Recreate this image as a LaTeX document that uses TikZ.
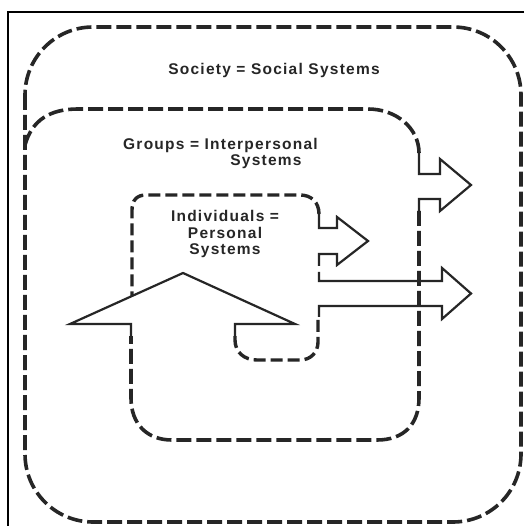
\documentclass[tikz,border=0pt]{standalone}
\usepackage{fontspec}
\newfontfamily\lab[LetterSpace=8]{Liberation Sans}
\definecolor{ink}{HTML}{262626}
\begin{document}
\begin{tikzpicture}[x=1pt,y=-1pt,
  dsh/.style={draw=ink,line width=3.6pt,dash pattern=on 15pt off 5pt},
  dshs/.style={draw=ink,line width=3.4pt,dash pattern=on 12pt off 5pt},
  sol/.style={draw=ink,line width=2.2pt,line join=miter},
  txt/.style={text=ink,font=\lab\bfseries\fontsize{15.5}{16.5}\selectfont,inner sep=0pt}]
\useasboundingbox (0,0) rectangle (527,526);
\fill[white] (0,0) rectangle (527,526);
% frame
\coordinate (ftl) at (8,12);
\coordinate (ftr) at (524,12);
\coordinate (fbl) at (8,526);
\draw[black,line width=1.4pt] (ftr) -- (ftl) -- (fbl);
% society
\draw[dsh,rounded corners=68pt] (25,27) rectangle (521,522);
% groups: top and right part
\draw[dsh] (25,145) .. controls (32,120) and (50,109) .. (78,109) -- (368,109)
  .. controls (396,109) and (419,128) .. (419,153);
% arrow 1 (groups -> out)
\draw[sol] (419,152) -- (419,174) -- (440,174) -- (440,159) -- (471,185)
  -- (440,211) -- (440,199) -- (419,199) -- (419,212);
% groups: right side and bottom
\draw[dsh] (419,211) -- (419,398) .. controls (419,424) and (404,440) .. (377,440)
  -- (172,440) .. controls (147,440) and (131,424) .. (131,398) -- (131,336);
% up arrow
\draw[sol] (131,337) -- (131,324) -- (70,324) -- (183,273) -- (295,324) -- (235,324) -- (235,337);
% individuals bottom
\draw[dshs] (235,336) -- (235,340) .. controls (235,352) and (244,360) .. (257,360)
  -- (300,360) .. controls (311,360) and (318,352) .. (318,342) -- (318,316);
% arrow 3 (big lower)
\draw[sol] (319,317) -- (319,306) -- (442,306) -- (442,319) -- (471,293.5)
  -- (442,268) -- (442,281) -- (319,281) -- (319,272);
% arrow 2 (small)
\draw[sol] (319,266) -- (319,254) -- (337,254) -- (337,265) -- (368,241)
  -- (337,217) -- (337,228) -- (319,228) -- (319,213);
% individuals top
\draw[dshs] (319,214) .. controls (319,202) and (311,195) .. (300,195) -- (146,195)
  .. controls (137,195) and (132,200) .. (132,210) -- (132,296);
% texts
\node[txt] (soc) at (274,70) {Society = Social Systems};
\node[txt,anchor=west] (grp) at (123,145) {Groups = Interpersonal};
\node[txt] (grp2) at (266,162) {Systems};
\node[txt,align=center] (ind) at (225,234) {Individuals =\\Personal\\Systems};
\end{tikzpicture}
\end{document}
